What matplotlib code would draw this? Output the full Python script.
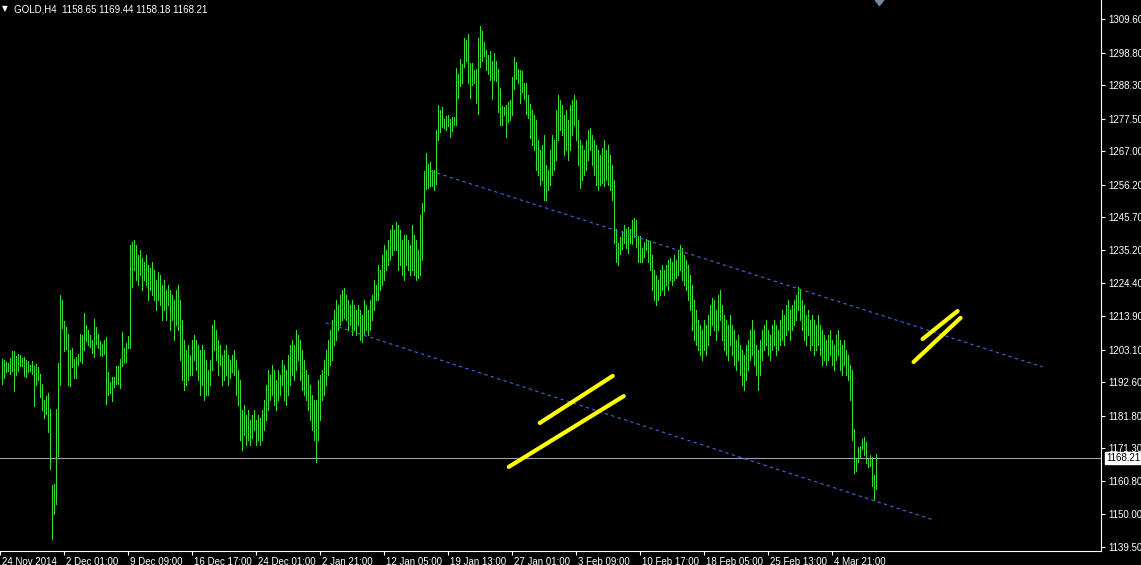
import matplotlib
matplotlib.use('Agg')
import matplotlib.pyplot as plt
import numpy as np
from matplotlib.path import Path
from matplotlib.transforms import ScaledTranslation

# GOLD H4 bars, high / low per bar (oldest first)
highs = [
    1200.1, 1199.7, 1199.1, 1198.8, 1200.4, 1202.6, 1202.6, 1201.0, 1201.7, 1201.3,
    1200.4, 1200.7, 1199.7, 1199.4, 1198.1, 1199.4, 1197.8, 1198.4, 1197.5, 1195.2,
    1192.0, 1186.9, 1188.1, 1189.1, 1184.0, 1159.5, 1159.8, 1184.0, 1198.8, 1220.7,
    1219.1, 1212.3, 1210.4, 1208.1, 1203.0, 1203.6, 1200.1, 1200.7, 1201.7, 1208.1,
    1207.8, 1214.9, 1211.0, 1209.4, 1207.8, 1206.2, 1213.0, 1210.4, 1208.1, 1205.9,
    1204.9, 1206.2, 1207.2, 1195.9, 1192.7, 1194.3, 1194.3, 1197.8, 1197.8, 1200.1,
    1208.8, 1203.6, 1205.2, 1207.5, 1236.8, 1237.7, 1238.4, 1236.8, 1233.6, 1235.2,
    1232.6, 1231.3, 1233.6, 1230.3, 1229.4, 1231.3, 1228.7, 1225.5, 1228.1, 1227.1,
    1223.9, 1225.5, 1222.3, 1223.9, 1222.3, 1220.7, 1219.1, 1222.3, 1223.9, 1219.1,
    1212.6, 1206.2, 1203.0, 1204.6, 1201.3, 1206.2, 1207.8, 1206.2, 1204.6, 1203.0,
    1204.6, 1203.0, 1199.7, 1196.5, 1199.7, 1211.0, 1212.6, 1209.4, 1206.2, 1204.6,
    1201.3, 1203.0, 1204.6, 1201.3, 1199.7, 1201.3, 1203.0, 1199.7, 1196.5, 1193.3,
    1183.6, 1185.2, 1182.0, 1183.6, 1180.4, 1182.0, 1183.6, 1180.4, 1182.0, 1181.1,
    1183.6, 1186.9, 1191.7, 1196.5, 1194.9, 1198.1, 1196.5, 1193.3, 1196.5, 1194.9,
    1199.7, 1198.1, 1196.5, 1201.3, 1204.6, 1206.2, 1204.6, 1209.4, 1207.8, 1206.2,
    1203.0, 1199.7, 1196.5, 1194.9, 1191.7, 1188.5, 1186.9, 1186.9, 1193.3, 1194.9,
    1196.5, 1199.7, 1203.0, 1206.2, 1209.4, 1212.6, 1215.8, 1219.1, 1217.5, 1220.7,
    1222.3, 1222.9, 1220.7, 1219.1, 1217.5, 1219.1, 1217.5, 1215.8, 1217.5, 1215.8,
    1214.2, 1219.1, 1217.5, 1215.8, 1219.1, 1220.7, 1225.5, 1223.9, 1230.3, 1228.7,
    1233.6, 1236.8, 1235.2, 1238.4, 1241.6, 1243.2, 1241.6, 1244.2, 1243.2, 1241.6,
    1238.4, 1240.0, 1240.0, 1238.4, 1236.8, 1243.2, 1240.0, 1238.4, 1235.2, 1246.5,
    1250.3, 1260.6, 1266.4, 1262.9, 1263.5, 1261.0, 1261.0, 1273.8, 1281.9, 1280.3,
    1281.2, 1277.4, 1278.3, 1278.7, 1277.4, 1278.0, 1278.0, 1293.8, 1291.9, 1296.7,
    1295.1, 1303.5, 1302.8, 1304.8, 1295.4, 1295.4, 1293.2, 1293.5, 1303.5, 1307.3,
    1305.7, 1302.2, 1299.6, 1298.0, 1299.3, 1296.1, 1298.6, 1296.1, 1293.5, 1287.4,
    1281.6, 1281.2, 1281.9, 1282.9, 1283.5, 1290.9, 1297.4, 1295.7, 1293.5, 1293.2,
    1292.9, 1289.0, 1289.0, 1285.1, 1282.2, 1280.3, 1278.7, 1277.1, 1270.6, 1267.4,
    1269.0, 1272.2, 1262.6, 1261.0, 1267.4, 1272.2, 1270.6, 1280.3, 1285.1, 1283.5,
    1281.9, 1278.7, 1280.3, 1277.1, 1281.9, 1283.5, 1285.1, 1283.5, 1277.1, 1270.6,
    1269.0, 1267.4, 1270.6, 1273.8, 1274.5, 1272.2, 1270.6, 1269.0, 1267.4, 1265.8,
    1268.0, 1270.6, 1267.4, 1269.0, 1265.8, 1262.6, 1257.7, 1242.0, 1237.4, 1239.4,
    1241.3, 1243.2, 1242.0, 1242.6, 1242.0, 1244.8, 1245.5, 1244.8, 1239.7, 1239.7,
    1235.8, 1237.7, 1238.7, 1238.4, 1238.1, 1233.6, 1228.7, 1227.1, 1225.5, 1228.7,
    1230.3, 1228.7, 1230.3, 1231.9, 1232.6, 1231.3, 1233.6, 1231.9, 1235.2, 1236.8,
    1235.8, 1233.6, 1231.9, 1230.3, 1227.1, 1223.9, 1219.1, 1215.8, 1212.6, 1211.0,
    1209.4, 1212.6, 1211.0, 1214.2, 1217.5, 1219.7, 1219.1, 1215.8, 1220.7, 1222.3,
    1217.5, 1214.2, 1212.6, 1211.0, 1214.2, 1211.0, 1209.4, 1206.2, 1207.8, 1204.6,
    1203.0, 1201.3, 1204.6, 1206.2, 1209.4, 1212.6, 1209.4, 1204.6, 1203.0, 1206.2,
    1209.4, 1211.0, 1212.6, 1209.4, 1207.8, 1211.0, 1212.6, 1211.0, 1209.4, 1212.6,
    1215.8, 1214.2, 1217.5, 1219.1, 1215.8, 1217.5, 1219.1, 1220.7, 1223.3, 1222.3,
    1219.1, 1217.5, 1214.2, 1215.8, 1212.6, 1214.2, 1212.6, 1211.0, 1214.2, 1211.0,
    1209.4, 1207.8, 1206.2, 1207.8, 1209.4, 1206.2, 1204.6, 1207.8, 1209.4, 1206.2,
    1204.6, 1206.2, 1203.0, 1201.3, 1198.1, 1196.5, 1177.5, 1168.2, 1171.7, 1172.0,
    1174.3, 1174.9, 1173.3, 1167.8, 1169.1, 1168.5, 1162.7, 1169.44,
]
lows = [
    1192.0, 1193.9, 1195.9, 1196.2, 1195.2, 1196.2, 1189.8, 1194.9, 1196.2, 1197.8,
    1197.8, 1194.6, 1194.3, 1195.9, 1196.2, 1195.2, 1184.9, 1191.7, 1193.3, 1187.8,
    1183.6, 1181.1, 1182.4, 1176.5, 1164.6, 1142.1, 1150.1, 1153.3, 1168.8, 1191.7,
    1210.1, 1202.6, 1203.3, 1191.7, 1191.4, 1197.5, 1193.9, 1193.9, 1198.1, 1199.4,
    1198.8, 1203.0, 1205.9, 1204.6, 1203.9, 1202.0, 1200.7, 1204.9, 1203.6, 1201.3,
    1201.0, 1201.7, 1185.6, 1188.5, 1189.1, 1186.5, 1191.0, 1192.0, 1192.0, 1190.7,
    1197.8, 1198.8, 1199.1, 1203.6, 1203.6, 1223.3, 1228.7, 1225.5, 1223.9, 1227.1,
    1222.3, 1225.5, 1223.9, 1219.1, 1222.3, 1220.7, 1219.1, 1215.8, 1219.1, 1217.5,
    1212.6, 1215.8, 1212.6, 1217.5, 1209.4, 1212.6, 1206.2, 1211.0, 1209.4, 1199.7,
    1193.3, 1190.1, 1191.7, 1193.3, 1194.9, 1194.9, 1199.7, 1196.5, 1193.3, 1188.5,
    1191.7, 1186.9, 1188.5, 1188.5, 1191.7, 1196.5, 1203.0, 1199.7, 1194.9, 1198.1,
    1191.7, 1193.3, 1194.9, 1191.7, 1193.9, 1195.9, 1194.9, 1188.5, 1185.2, 1174.0,
    1170.7, 1175.6, 1172.4, 1174.0, 1172.4, 1174.6, 1177.2, 1172.4, 1174.0, 1172.4,
    1174.0, 1177.2, 1180.4, 1183.6, 1186.9, 1188.5, 1185.2, 1183.6, 1186.9, 1188.5,
    1191.7, 1186.9, 1185.2, 1188.5, 1191.7, 1194.9, 1193.3, 1196.5, 1199.7, 1193.3,
    1190.1, 1188.5, 1186.9, 1183.6, 1180.4, 1177.2, 1174.0, 1166.9, 1174.0, 1180.4,
    1186.9, 1188.5, 1191.7, 1194.9, 1198.1, 1199.7, 1204.6, 1206.2, 1209.4, 1211.0,
    1212.6, 1213.3, 1212.6, 1209.4, 1211.0, 1207.8, 1209.4, 1207.8, 1211.0, 1206.2,
    1205.5, 1207.8, 1209.4, 1207.8, 1209.4, 1212.6, 1215.8, 1219.1, 1219.1, 1222.3,
    1223.9, 1225.5, 1228.7, 1230.3, 1232.0, 1233.6, 1235.2, 1235.2, 1228.7, 1230.3,
    1227.1, 1225.5, 1230.3, 1228.7, 1227.1, 1228.7, 1227.1, 1225.5, 1226.2, 1227.1,
    1232.0, 1247.7, 1254.8, 1255.1, 1255.8, 1255.8, 1254.5, 1256.4, 1270.6, 1273.2,
    1274.8, 1274.5, 1273.8, 1275.1, 1271.6, 1273.5, 1275.4, 1275.4, 1284.1, 1288.0,
    1289.0, 1294.1, 1296.1, 1289.0, 1284.1, 1288.3, 1289.0, 1282.5, 1279.0, 1294.1,
    1296.1, 1297.7, 1293.2, 1291.9, 1290.0, 1283.8, 1290.0, 1289.6, 1279.6, 1275.4,
    1275.4, 1278.7, 1271.6, 1276.4, 1277.1, 1278.7, 1287.0, 1290.3, 1289.0, 1282.5,
    1286.1, 1283.8, 1279.0, 1277.7, 1271.3, 1269.0, 1267.4, 1260.9, 1259.3, 1256.1,
    1257.7, 1251.3, 1251.3, 1254.5, 1256.1, 1259.3, 1260.9, 1264.2, 1270.6, 1273.8,
    1272.2, 1265.8, 1267.4, 1264.2, 1267.4, 1272.2, 1275.4, 1270.6, 1262.6, 1255.2,
    1257.7, 1259.3, 1260.9, 1264.2, 1267.4, 1262.6, 1259.3, 1256.1, 1254.5, 1256.1,
    1256.7, 1255.8, 1257.7, 1256.1, 1254.5, 1251.3, 1237.4, 1231.3, 1230.3, 1233.9,
    1235.5, 1237.4, 1235.8, 1234.2, 1237.4, 1237.1, 1239.4, 1236.1, 1231.3, 1231.3,
    1231.3, 1232.9, 1235.2, 1231.3, 1228.7, 1222.3, 1219.1, 1217.5, 1219.1, 1220.7,
    1222.3, 1220.7, 1223.9, 1222.3, 1225.5, 1223.9, 1225.5, 1226.2, 1227.1, 1228.7,
    1225.5, 1223.9, 1222.3, 1219.1, 1215.8, 1209.4, 1206.2, 1204.6, 1203.0, 1201.3,
    1199.7, 1203.0, 1201.3, 1204.6, 1207.8, 1211.0, 1209.4, 1206.2, 1209.4, 1212.6,
    1206.2, 1203.0, 1201.3, 1199.7, 1204.6, 1201.3, 1198.1, 1196.5, 1199.7, 1194.9,
    1191.7, 1190.1, 1193.3, 1196.5, 1199.7, 1201.3, 1198.1, 1194.9, 1190.1, 1194.9,
    1199.7, 1203.0, 1204.6, 1201.3, 1199.7, 1203.0, 1204.6, 1201.3, 1203.0, 1204.6,
    1206.2, 1204.6, 1207.8, 1209.4, 1206.2, 1209.4, 1211.0, 1212.6, 1215.8, 1212.6,
    1209.4, 1206.2, 1204.6, 1207.8, 1203.0, 1204.6, 1201.3, 1203.0, 1204.6, 1201.3,
    1198.1, 1199.7, 1198.1, 1199.7, 1201.3, 1198.1, 1196.5, 1199.7, 1201.3, 1196.5,
    1194.9, 1198.1, 1194.9, 1193.3, 1186.9, 1174.0, 1163.3, 1164.0, 1166.9, 1168.5,
    1171.1, 1169.1, 1166.6, 1165.3, 1165.6, 1159.1, 1154.6, 1158.18,
]

price_ticks = [1309.60, 1298.80, 1288.30, 1277.50, 1267.00, 1256.20, 1245.70, 1235.20,
               1224.40, 1213.90, 1203.10, 1192.60, 1181.80, 1171.30, 1160.80, 1150.00, 1139.50]
date_labels = ['24 Nov 2014', '2 Dec 01:00', '9 Dec 09:00', '16 Dec 17:00', '24 Dec 01:00',
               '2 Jan 21:00', '12 Jan 05:00', '19 Jan 13:00', '27 Jan 01:00', '3 Feb 09:00',
               '10 Feb 17:00', '18 Feb 05:00', '25 Feb 13:00', '4 Mar 21:00']
bars_per_label = 32
last_price = 1168.21
header = 'GOLD,H4  1158.65 1169.44 1158.18 1168.21'

# channel lines drawn by hand: (bar, price) endpoints
upper_line = ([214.5, 520.5], [1260.6, 1197.5])
lower_line = ([162.0, 466.0], [1211.7, 1148.2])
# yellow "=" marks
marks = [
    ([269.0, 305.5], [1179.45, 1194.6]),
    ([253.5, 311.0], [1165.3, 1188.1]),
    ([460.5, 478.0], [1206.5, 1215.5]),
    ([456.0, 479.5], [1199.1, 1213.3]),
]

plt.rcParams['font.family'] = ['Liberation Sans', 'DejaVu Sans']

W, H = 1141, 565
fig = plt.figure(figsize=(W / 100, H / 100), dpi=100, facecolor='black')
ax = fig.add_axes([0, 14 / H, 1101 / W, 551 / H])
ax.set_facecolor('black')

x = np.arange(len(highs))
# 2 px per bar, bar centred inside a pixel
ax.set_xlim(-0.75, 549.75)
ax.set_ylim(1138.2, 1315.72)
ax.vlines(x, lows, highs, colors='#30e030', lw=0.5, antialiased=False)

ax.axhline(last_price, color='#9ea3ab', lw=0.8)

ax.plot(*upper_line, color='#4169e1', lw=0.8, ls=(0, (3, 3)))
ax.plot(*lower_line, color='#4169e1', lw=0.8, ls=(0, (3, 3)))
for mx, my in marks:
    ax.plot(mx, my, color='#ffff00', lw=3, solid_capstyle='round')

# spines / ticks
for s in ['left', 'top']:
    ax.spines[s].set_visible(False)
for s in ['right', 'bottom']:
    ax.spines[s].set_color('white')
    ax.spines[s].set_linewidth(0.8)

ax.yaxis.tick_right()
ax.set_yticks(price_ticks)
ax.set_yticklabels(['%.2f' % p for p in price_ticks])
ax.tick_params(axis='y', colors='white', length=3, width=0.8, direction='out',
               labelsize=7, pad=2)

tick_bars = [-1 + bars_per_label * i for i in range(len(date_labels))]
ax.set_xticks(tick_bars)
ax.set_xticklabels(date_labels, ha='left')
ax.tick_params(axis='x', colors='white', length=3, width=0.8, direction='out',
               labelsize=7, pad=1)
shift = ScaledTranslation(2 / 100, 0, fig.dpi_scale_trans)
for lbl in ax.get_xticklabels():
    lbl.set_transform(lbl.get_transform() + shift)

# current price box
ax.annotate('%.2f' % last_price, xy=(1, last_price), xycoords=('axes fraction', 'data'),
            xytext=(5, 0), textcoords='offset pixels', va='center', ha='left',
            fontsize=7, color='black', annotation_clip=False,
            bbox=dict(boxstyle='square,pad=0.12', fc='white', ec='white'))

# shift marker at top
tri = Path([(-4, 0), (4, 0), (0, -5), (-4, 0)])
ax.plot([len(highs) + 0.5], [1315.72], marker=tri, ms=7.2, color='#778899',
        clip_on=False, ls='none')

fig.text(2 / W, 1 - 9 / H, '\u25bc', color='white', fontsize=5.5, va='center',
         ha='left', family='DejaVu Sans')
fig.text(14 / W, 1 - 9 / H, header, color='white', fontsize=7, va='center', ha='left')

fig.savefig('out.png', dpi=100, facecolor='black')
